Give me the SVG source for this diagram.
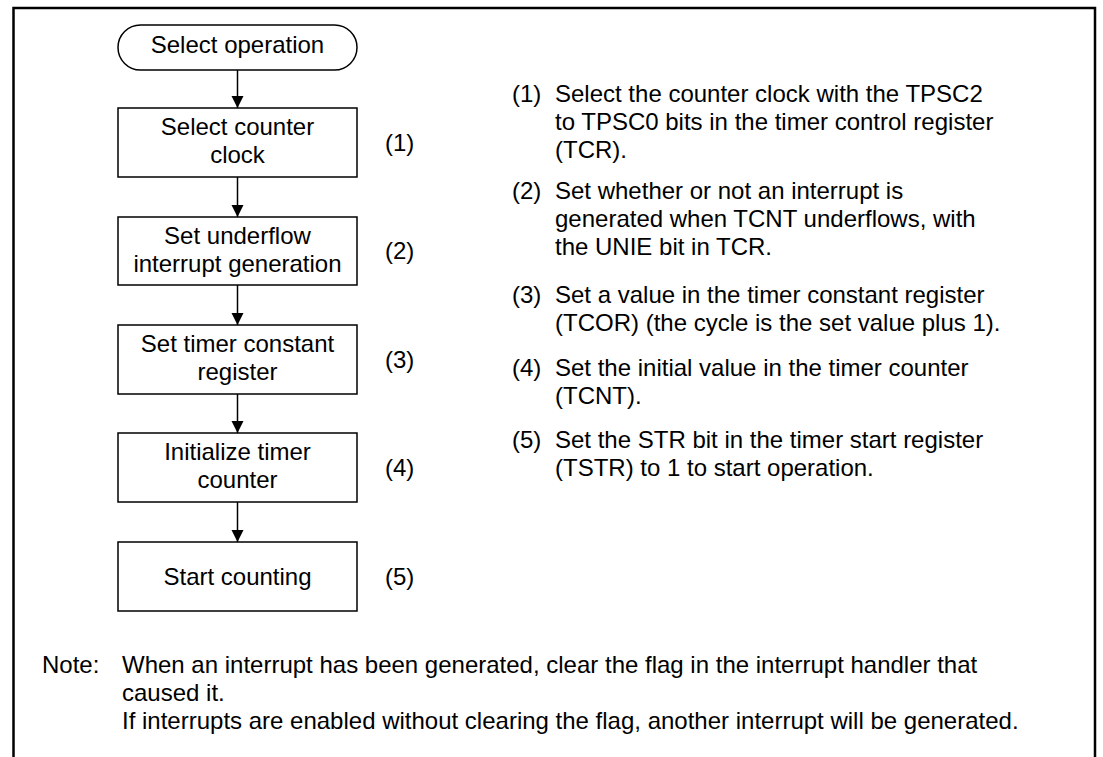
<svg xmlns="http://www.w3.org/2000/svg" width="1103" height="757" viewBox="0 0 1103 757">
<defs>
<style>
text{font-family:"Liberation Sans",Arial,sans-serif;font-size:24px;fill:#000}
.c{text-anchor:middle}
.box{fill:#fff;stroke:#000;stroke-width:1.5}
.frame{fill:#fff;stroke:#000;stroke-width:2.5}
.conn{stroke:#000;stroke-width:1.5;fill:none;marker-end:url(#ah)}
</style>
<marker id="ah" viewBox="0 0 12 16" markerWidth="12" markerHeight="16" refX="12" refY="8" orient="auto" markerUnits="userSpaceOnUse">
<path d="M0,2 L12,8 L0,14 Z" fill="#000"/>
</marker>
</defs>
<rect class="frame" x="13.5" y="8" width="1081.5" height="780"/>
<g id="connectors">
<line class="conn" x1="237.5" y1="70" x2="237.5" y2="108"/>
<line class="conn" x1="237.5" y1="177" x2="237.5" y2="217"/>
<line class="conn" x1="237.5" y1="285" x2="237.5" y2="325"/>
<line class="conn" x1="237.5" y1="394" x2="237.5" y2="433"/>
<line class="conn" x1="237.5" y1="502" x2="237.5" y2="542"/>
</g>
<g id="start">
<rect class="box" x="118" y="25" width="239" height="45" rx="22.5"/>
<text class="c" x="237.5" y="53">Select operation</text>
</g>
<g id="step1">
<rect class="box" x="118" y="108" width="239" height="69"/>
<text class="c" x="237.5" y="135">Select counter</text>
<text class="c" x="237.5" y="163">clock</text>
<text x="385" y="151">(1)</text>
</g>
<g id="step2">
<rect class="box" x="118" y="217" width="239" height="68"/>
<text class="c" x="237.5" y="244">Set underflow</text>
<text class="c" x="237.5" y="272">interrupt generation</text>
<text x="385" y="259">(2)</text>
</g>
<g id="step3">
<rect class="box" x="118" y="325" width="239" height="69"/>
<text class="c" x="237.5" y="352">Set timer constant</text>
<text class="c" x="237.5" y="380">register</text>
<text x="385" y="368">(3)</text>
</g>
<g id="step4">
<rect class="box" x="118" y="433" width="239" height="69"/>
<text class="c" x="237.5" y="460">Initialize timer</text>
<text class="c" x="237.5" y="488">counter</text>
<text x="385" y="476">(4)</text>
</g>
<g id="step5">
<rect class="box" x="118" y="542" width="239" height="69"/>
<text class="c" x="237.5" y="585">Start counting</text>
<text x="385" y="585">(5)</text>
</g>
<g id="descriptions">
<text x="512" y="102">(1)</text>
<text x="555" y="102">Select the counter clock with the TPSC2</text>
<text x="555" y="130">to TPSC0 bits in the timer control register</text>
<text x="555" y="158">(TCR).</text>
<text x="512" y="199">(2)</text>
<text x="555" y="199">Set whether or not an interrupt is</text>
<text x="555" y="227">generated when TCNT underflows, with</text>
<text x="555" y="255">the UNIE bit in TCR.</text>
<text x="512" y="303">(3)</text>
<text x="555" y="303">Set a value in the timer constant register</text>
<text x="555" y="331">(TCOR) (the cycle is the set value plus 1).</text>
<text x="512" y="376">(4)</text>
<text x="555" y="376">Set the initial value in the timer counter</text>
<text x="555" y="404">(TCNT).</text>
<text x="512" y="448">(5)</text>
<text x="555" y="448">Set the STR bit in the timer start register</text>
<text x="555" y="476">(TSTR) to 1 to start operation.</text>
</g>
<g id="note">
<text x="42" y="673">Note:</text>
<text x="122" y="673">When an interrupt has been generated, clear the flag in the interrupt handler that</text>
<text x="122" y="701">caused it.</text>
<text x="122" y="729">If interrupts are enabled without clearing the flag, another interrupt will be generated.</text>
</g>
</svg>
